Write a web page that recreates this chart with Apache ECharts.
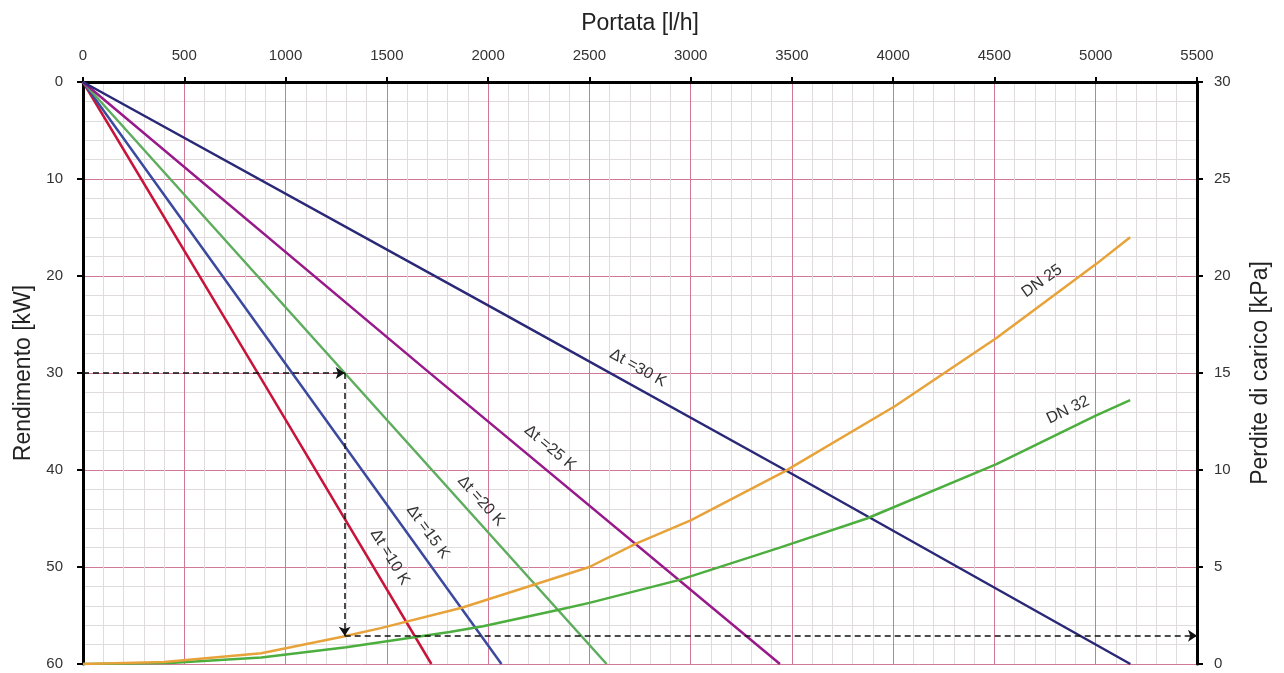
<!DOCTYPE html>
<html><head><meta charset="utf-8">
<script src="https://cdn.jsdelivr.net/npm/echarts@6/dist/echarts.min.js"></script>
<style>html,body{margin:0;padding:0;background:#fff}#c{width:1284px;height:673px}</style>
</head><body><div id="c"></div>
<script>
// ---- data (flow l/h, value) ----
const flowTicks = [0,500,1000,1500,2000,2500,3000,3500,4000,4500,5000,5500];
const powerTicks = [0,10,20,30,40,50,60];
const lossTicks = [0,5,10,15,20,25,30];

const dt10 = [[0,0],[880,30.6],[1720,60]];
const dt15 = [[0,0],[1053,30.6],[2066,60]];
const dt20 = [[0,0],[1292,30],[2585,60]];
const dt25 = [[0,0],[1689,29.6],[3441,60]];
const dt30 = [[0,0],[2058,23.7],[3466,40],[5171,60]];

const dn25 = [[0,0],[400,0.1],[880,0.55],[1280,1.4],[1470,1.85],[1870,2.9],[2230,4.1],[2500,5.0],[2730,6.2],[3000,7.4],[3460,9.9],[4010,13.3],[4510,16.8],[5000,20.6],[5170,22.0]];
const dn32 = [[0,0],[430,0.05],[880,0.33],[1300,0.86],[1810,1.65],[1975,1.95],[2350,2.8],[2500,3.15],[2950,4.35],[3440,6.0],[3870,7.5],[4510,10.3],[5000,12.8],[5170,13.6]];

const guidePower = [[0,30],[1292,30]];      // kW axis
const guideDown = [[1292,15],[1292,1.45]];  // kPa axis
const guideRight = [[1292,1.45],[5500,1.45]]; // kPa axis

const dtNames = ['Δt =10 K','Δt =15 K','Δt =20 K','Δt =25 K','Δt =30 K'];
const dnNames = ['DN 25','DN 32'];

// ---- styling / layout ----
const FONT = '"Liberation Sans", Arial, Helvetica, sans-serif';
const dtColors = ['#c8143a','#3b4a9e','#5ead5e','#98198a','#2a2977'];
const dnColors = ['#e8a23a','#4cae3e'];
const labelPos = [
  {x:390,y:557},{x:428,y:532},{x:481,y:501},{x:550,y:448},{x:638,y:368}
];
const dnLabelPos = [{x:1042,y:281},{x:1068,y:410}];

const chart = echarts.init(document.getElementById('c'), null, {renderer:'canvas'});
const axisLineStyle = {color:'#000', width:3};
const majorSplit = {show:true, lineStyle:{color:'#d07898', width:1}};
const minorSplit = {show:true, lineStyle:{color:'#e0dcdd', width:1}};
const labelStyle = {color:'#333', fontSize:15, fontFamily:FONT, formatter:(v)=>String(v)};
const nameStyle = {color:'#222', fontSize:23, fontFamily:FONT};

const dtSeries = [dt10,dt15,dt20,dt25,dt30].map((d,i)=>({
  type:'line', name:dtNames[i], data:d, xAxisIndex:0, yAxisIndex:0,
  showSymbol:false, symbol:'none', smooth:false, z:3,
  lineStyle:{color:dtColors[i], width:2.5}
}));
const dnSeries = [dn32,dn25].map((d,k)=>{
  const i = k===0?1:0;
  return {type:'line', name:dnNames[i], data:d, xAxisIndex:0, yAxisIndex:1,
    showSymbol:false, symbol:'none', smooth:false, z:4+k,
    lineStyle:{color:dnColors[i], width:2.5}};
});
const guideStyle = {color:'#111', width:1.5, type:[6,4], opacity:1};
const guideSeries = [
  {type:'lines', coordinateSystem:'cartesian2d', xAxisIndex:0, yAxisIndex:0, z:6,
   symbol:['none','arrow'], symbolSize:9, lineStyle:guideStyle,
   itemStyle:{color:'#111', opacity:1},
   data:[{coords:guidePower}]},
  {type:'lines', coordinateSystem:'cartesian2d', xAxisIndex:0, yAxisIndex:1, z:6,
   symbol:['none','arrow'], symbolSize:9, lineStyle:guideStyle,
   itemStyle:{color:'#111', opacity:1},
   data:[{coords:guideDown},{coords:guideRight}]}
];

chart.setOption({
  animation:false,
  backgroundColor:'#fff',
  grid:{left:83, right:87, top:82, bottom:9, containLabel:false},
  xAxis:{type:'value', position:'top', min:flowTicks[0], max:flowTicks[flowTicks.length-1],
    interval:flowTicks[1]-flowTicks[0],
    name:'Portata [l/h]', nameLocation:'middle', nameGap:47, nameTextStyle:nameStyle,
    axisLine:{show:true, onZero:false, lineStyle:axisLineStyle},
    axisTick:{show:true, length:5, lineStyle:{color:'#000', width:2}},
    axisLabel:Object.assign({margin:19}, labelStyle),
    splitLine:majorSplit,
    minorTick:{show:false, splitNumber:5}, minorSplitLine:minorSplit},
  yAxis:[
    {type:'value', position:'left', inverse:true, min:powerTicks[0], max:powerTicks[powerTicks.length-1],
     interval:powerTicks[1]-powerTicks[0],
     name:'Rendimento [kW]', nameLocation:'middle', nameRotate:90, nameGap:48, nameTextStyle:nameStyle,
     axisLine:{show:true, onZero:false, lineStyle:axisLineStyle},
     axisTick:{show:true, length:6, lineStyle:{color:'#000', width:2}},
     axisLabel:Object.assign({margin:20}, labelStyle),
     splitLine:majorSplit,
     minorTick:{show:false, splitNumber:5}, minorSplitLine:minorSplit},
    {type:'value', position:'right', min:lossTicks[0], max:lossTicks[lossTicks.length-1],
     interval:lossTicks[1]-lossTicks[0],
     name:'Perdite di carico [kPa]', nameLocation:'middle', nameRotate:90, nameGap:52, nameTextStyle:nameStyle,
     axisLine:{show:true, onZero:false, lineStyle:axisLineStyle},
     axisTick:{show:true, length:6, lineStyle:{color:'#000', width:2}},
     axisLabel:Object.assign({margin:17}, labelStyle),
     splitLine:{show:false}}
  ],
  series:[...dtSeries, ...dnSeries, ...guideSeries]
});

// rotated line labels
function angleOf(series, yIdx, a, b){
  const p1 = chart.convertToPixel({xAxisIndex:0, yAxisIndex:yIdx}, series[a]);
  const p2 = chart.convertToPixel({xAxisIndex:0, yAxisIndex:yIdx}, series[b]);
  return Math.atan2(p2[1]-p1[1], p2[0]-p1[0]);
}
const graphics = [];
const lblFont = '16px ' + FONT;
[dt10,dt15,dt20,dt25,dt30].forEach((d,i)=>{
  const ang = angleOf(d, 0, 0, d.length-1);
  graphics.push({type:'text', x:labelPos[i].x, y:labelPos[i].y, rotation:-ang, z:10,
    style:{text:dtNames[i], font:lblFont, fill:'#333', textAlign:'center', textVerticalAlign:'middle', align:'center', verticalAlign:'middle'}});
});
[dn25,dn32].forEach((d,i)=>{
  const ang = angleOf(d, 1, 11, 13);
  graphics.push({type:'text', x:dnLabelPos[i].x, y:dnLabelPos[i].y, rotation:-ang, z:10,
    style:{text:dnNames[i], font:lblFont, fill:'#333', textAlign:'center', textVerticalAlign:'middle', align:'center', verticalAlign:'middle'}});
});
chart.setOption({graphic:graphics});
</script>
</body></html>
